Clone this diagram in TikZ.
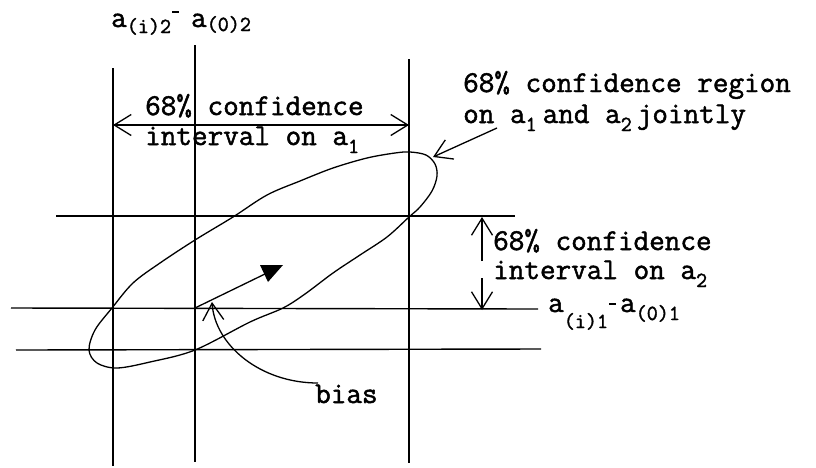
\documentclass[tikz,border=0pt]{standalone}
\usepackage{fontspec}
\newfontfamily\twfont{Latin Modern Mono}[FakeBold=1.6]
\usetikzlibrary{arrows.meta}
\newcommand{\mysub}[2]{\raisebox{-#1pt}{\fontsize{21.5}{22}\selectfont #2}}
\newcommand{\mymin}[1]{\rule[#1pt]{7pt}{1.6pt}}
\tikzset{
  grid/.style={line width=1.4pt},
  txt/.style={anchor=base west, inner sep=0pt, font=\twfont\bfseries\fontsize{30.3}{34}\selectfont},
  barb/.style={-{Straight Barb[length=17pt,width=21pt,line width=1.3pt]}, line width=1.3pt},
  dbarb/.style={{Straight Barb[length=17pt,width=21pt,line width=1.3pt]}-{Straight Barb[length=17pt,width=21pt,line width=1.3pt]}, line width=1.3pt},
  curve/.style={line width=1.3pt},
}
\begin{document}
\begin{tikzpicture}[x=1pt,y=-1pt]
\useasboundingbox (0,0) rectangle (816,467);
% grid lines
\coordinate (vl1) at (113,68);  \coordinate (vl2) at (113,466);
\coordinate (vm1) at (195,45);  \coordinate (vm2) at (195,462);
\coordinate (vr1) at (409,59);  \coordinate (vr2) at (409,463);
\coordinate (ht1) at (56,216);  \coordinate (ht2) at (515,216);
\coordinate (hm1) at (11,308);  \coordinate (hm2) at (538,309);
\coordinate (hb1) at (16,350);  \coordinate (hb2) at (541,349);
\draw[grid] (vl1) -- (vl2);
\draw[grid] (vm1) -- (vm2);
\draw[grid] (vr1) -- (vr2);
\draw[grid] (ht1) -- (ht2);
\draw[grid] (hm1) -- (hm2);
\draw[grid] (hb1) -- (hb2);
% ellipse
\draw[curve] plot[smooth cycle, tension=0.55] coordinates {
 (410,152) (426,155) (435,164) (437,176) (432,191) (420,207) (409,217)
 (387,237) (360,255) (333,273) (305,294) (283,308) (250,322) (195,350)
 (150,362) (117,368) (97,363) (89,350) (95,330) (112,308) (133,283)
 (160,263) (195,240) (233,217) (267,195) (300,181) (333,168) (367,158) (395,153)};
% texts
\node[txt] (ta1) at (145,115) {68\% confidence};
\node[txt] (ta2) at (145,145) {interval on a\mysub{8}{1}};
\node[txt] (tb1) at (493,250) {68\% confidence};
\node[txt] (tb2) at (493,279) {interval on a\mysub{8}{2}};
\node[txt] (tc1) at (463,92) {68\% confidence region};
\node[txt] (tc2) at (463,123) {on a\mysub{8}{1}\hspace{6pt}and a\mysub{8}{2}\hspace{5pt}jointly};
\node[txt] (tbias) at (315,403) {bias};
\node[txt] (lab2) at (111,27) {a\mysub{6}{(i)2}\hspace{1pt}\mymin{14}\hspace{12pt}a\mysub{4}{(0)2}};
\node[txt] (lab1) at (548,312) {a\mysub{16}{(i)1}\hspace{1pt}\mymin{7}\hspace{4pt}a\mysub{8}{(0)1}};
% interval on a1
\coordinate (ia) at (113,125); \coordinate (ib) at (409,125);
\draw[dbarb] (ia) -- (ib);
% interval on a2
\coordinate (ja) at (482,261); \coordinate (jb) at (482,217);
\coordinate (jc) at (482,278); \coordinate (jd) at (482,310);
\draw[barb] (ja) -- (jb);
\draw[barb] (jc) -- (jd);
% region arrow
\coordinate (ra) at (497,128); \coordinate (rb) at (433,157);
\draw[barb] (ra) -- (rb);
% bias vector
\coordinate (b0) at (195,308); \coordinate (b1) at (267,273);
\draw[curve] (b0) -- (b1);
\fill (260,265) -- (283,265) -- (268,282) -- cycle;
% bias label arrow
\coordinate (ca) at (318,383); \coordinate (cb) at (212,302);
\draw[barb] (ca) .. controls (260,383) and (215,345) .. (cb);
\end{tikzpicture}
\end{document}
